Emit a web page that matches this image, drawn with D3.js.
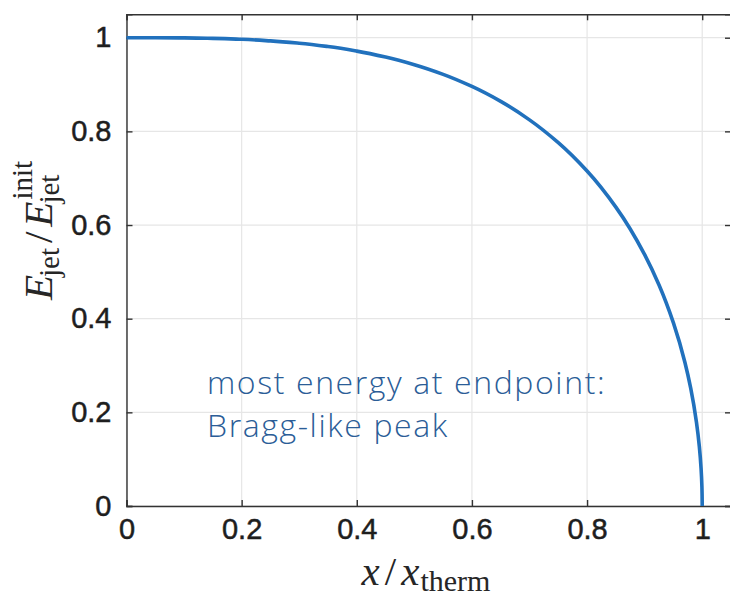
<!DOCTYPE html>
<html>
<head>
<meta charset="utf-8">
<script src="https://cdn.jsdelivr.net/npm/d3@7/dist/d3.min.js"></script>
<style>
  html, body { margin: 0; padding: 0; background: #fff; }
  svg { display: block; }
</style>
</head>
<body>
<svg id="chart" width="730" height="599"></svg>
<script>
// ---- data ----
const xValues = [0, 0.05, 0.1, 0.15, 0.2, 0.25, 0.3, 0.35, 0.4, 0.45, 0.5, 0.55, 0.6, 0.65, 0.7, 0.75, 0.8, 0.85, 0.9, 0.925, 0.95, 0.97, 0.98, 0.99, 0.995, 0.998, 0.9995, 1.0];
const energyRatio = [1.0, 1.0, 0.9996, 0.9986, 0.9966, 0.9932, 0.9882, 0.9811, 0.9714, 0.9587, 0.9423, 0.9217, 0.8959, 0.864, 0.8246, 0.7759, 0.7153, 0.6383, 0.5369, 0.472, 0.391, 0.3065, 0.2517, 0.179, 0.127, 0.0804, 0.0403, 0.0];
const xTicks = [0, 0.2, 0.4, 0.6, 0.8, 1];
const yTicks = [0, 0.2, 0.4, 0.6, 0.8, 1];
const xTickLabels = ["0", "0.2", "0.4", "0.6", "0.8", "1"];
const yTickLabels = ["0", "0.2", "0.4", "0.6", "0.8", "1"];
const annotationLines = ["most energy at endpoint:", "Bragg-like peak"];

const svg = d3.select("#chart");
const L = 126.5, T = 14.3, R = 731, B = 506;

const x = d3.scaleLinear().domain([0, 1.05]).range([L, R]);
const y = d3.scaleLinear().domain([0, 1.05]).range([B, T]);

// grid
const grid = svg.append("g").attr("stroke", "#e6e6e6").attr("stroke-width", 1.2);
xTicks.forEach(t => grid.append("line").attr("x1", x(t)).attr("x2", x(t)).attr("y1", T).attr("y2", B));
yTicks.forEach(t => grid.append("line").attr("y1", y(t)).attr("y2", y(t)).attr("x1", L).attr("x2", R));

// axes with inward ticks (all four sides)
const tickFmt = (labels, ticks) => (d) => labels[ticks.indexOf(d)];
const axB = d3.axisBottom(x).tickValues(xTicks).tickSize(-6).tickPadding(12).tickFormat(tickFmt(xTickLabels, xTicks));
const axT = d3.axisTop(x).tickValues(xTicks).tickSize(-6).tickFormat("");
const axLft = d3.axisLeft(y).tickValues(yTicks).tickSize(-6).tickPadding(15).tickFormat(tickFmt(yTickLabels, yTicks));
const axR = d3.axisRight(y).tickValues(yTicks).tickSize(-6).tickFormat("");

function styleAxis(g) {
  g.select(".domain").attr("stroke", "#333").attr("stroke-width", 1.4);
  g.selectAll(".tick line").attr("stroke", "#333").attr("stroke-width", 1.4);
  g.selectAll(".tick text").attr("fill", "#1e1e1e")
    .attr("stroke", "#1e1e1e").attr("stroke-width", 0.5)
    .style("font-family", "'Liberation Sans', Arial, sans-serif")
    .style("font-size", "29px");
}
svg.append("g").attr("transform", `translate(0,${B})`).call(axB).call(styleAxis);
svg.append("g").attr("transform", `translate(0,${T})`).call(axT).call(styleAxis);
svg.append("g").attr("transform", `translate(${L},0)`).call(axLft).call(styleAxis);
svg.append("g").attr("transform", `translate(${R},0)`).call(axR).call(styleAxis);

// curve
const pts = xValues.map((v, i) => [v, energyRatio[i]]);
svg.append("path")
  .datum(pts)
  .attr("fill", "none")
  .attr("stroke", "#2171bd")
  .attr("stroke-width", 3.6)
  .attr("stroke-linejoin", "round")
  .attr("d", d3.line().x(d => x(d[0])).y(d => y(d[1])).curve(d3.curveMonotoneY));

// annotation
const ann = svg.append("text")
  .attr("fill", "#2b5d97")
  .style("font-family", "'Open Sans', Roboto, sans-serif")
  .style("font-weight", 300)
  .style("font-size", "32px");
annotationLines.forEach((s, i) => ann.append("tspan").attr("x", 207).attr("y", 394 + i * 43).text(s));
{
  const first = ann.select("tspan");
  const s = annotationLines[0];
  const w = first.node().getComputedTextLength();
  const ls = Math.max(-1, Math.min(1.6, (415 - w) / (s.length - 1)));
  ann.style("letter-spacing", ls + "px");
}

// x label: x / x_therm
const serif = "'Liberation Serif', 'DejaVu Serif', serif";
const xl = svg.append("text")
  .attr("x", 426).attr("y", 585).attr("text-anchor", "middle")
  .attr("fill", "#262626")
  .style("font-family", serif).style("font-size", "41px");
xl.append("tspan").style("font-style", "italic").text("x");
xl.append("tspan").attr("dx", 5).text("/");
xl.append("tspan").attr("dx", 5).style("font-style", "italic").text("x");
xl.append("tspan").attr("dy", 6).attr("dx", 1).style("font-size", "30px").text("therm");

// y label: E_jet / E_jet^init (rotated)
const yg = svg.append("g").attr("transform", "translate(52,232) rotate(-90)");
const yl = yg.append("text").attr("text-anchor", "start").attr("fill", "#262626")
  .style("font-family", serif).style("font-size", "41px");
yl.append("tspan").style("font-style", "italic").text("E");
yl.append("tspan").attr("dy", 7).attr("dx", -2).style("font-size", "29px").text("jet");
yl.append("tspan").attr("dy", -7).attr("dx", 5).text("/");
yl.append("tspan").style("font-style", "italic").attr("dx", 5).text("E");
const wBefore = yl.node().getComputedTextLength() + 10;
yl.append("tspan").attr("dy", 7).attr("dx", -2).style("font-size", "29px").text("jet");
yg.append("text").attr("x", wBefore).attr("y", -20).attr("fill", "#262626")
  .style("font-family", serif).style("font-size", "29px").text("init");
// center the group on the reference label position
const bb = yg.node().getBBox();
yg.attr("transform", `translate(52,${230 + bb.width / 2}) rotate(-90)`);
</script>
</body>
</html>
